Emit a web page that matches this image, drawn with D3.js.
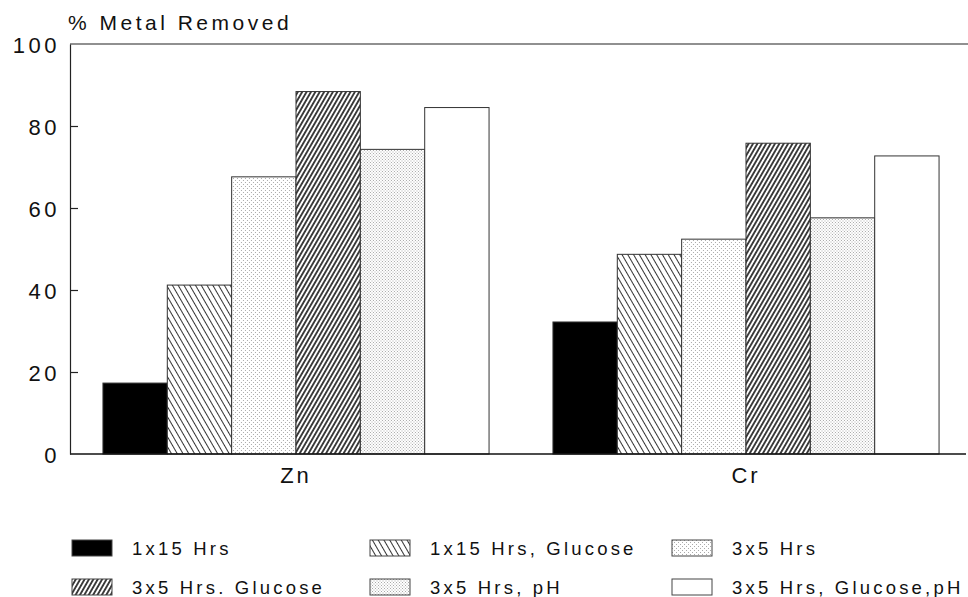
<!DOCTYPE html>
<html>
<head>
<meta charset="utf-8">
<script src="https://cdn.jsdelivr.net/npm/d3@7"></script>
<style>
  html, body { margin: 0; padding: 0; background: #fff; }
  svg { display: block; }
  text { font-family: "Liberation Sans", Arial, Helvetica, sans-serif; fill: #111; }
</style>
</head>
<body>
<svg id="chart" width="968" height="597"></svg>
<script>
// ---- data ----
const categories = ["Zn", "Cr"];
const seriesNames = ["1x15 Hrs", "1x15 Hrs, Glucose", "3x5 Hrs", "3x5 Hrs. Glucose", "3x5 Hrs, pH", "3x5 Hrs, Glucose,pH"];
const znValues = [17.3, 41.2, 67.6, 88.4, 74.3, 84.5];
const crValues = [32.2, 48.7, 52.4, 75.8, 57.6, 72.7];
const yTicks = [0, 20, 40, 60, 80, 100];
const yTitle = "% Metal Removed";
const legendOrder = [0, 1, 2, 3, 4, 5];

const valuesByCat = { "Zn": znValues, "Cr": crValues };

const svg = d3.select("#chart");
const defs = svg.append("defs");

// patterns
function hatch(id, spacing, width, angle, color) {
  const p = defs.append("pattern").attr("id", id)
    .attr("patternUnits", "userSpaceOnUse")
    .attr("width", spacing).attr("height", 10)
    .attr("patternTransform", `rotate(${angle})`);
  p.append("rect").attr("width", spacing).attr("height", 10).attr("fill", "#fff");
  p.append("line").attr("x1", spacing / 2).attr("x2", spacing / 2).attr("y1", 0).attr("y2", 10)
    .attr("stroke", color).attr("stroke-width", width);
}
function stipple(id, size, r, color, pts) {
  const p = defs.append("pattern").attr("id", id)
    .attr("patternUnits", "userSpaceOnUse")
    .attr("width", size).attr("height", size);
  p.append("rect").attr("width", size).attr("height", size).attr("fill", "#fff");
  pts.forEach(d => p.append("rect").attr("x", d[0]).attr("y", d[1]).attr("width", r).attr("height", r).attr("fill", color));
}
hatch("backHatch", 5, 1, -30, "#333");
hatch("denseHatch", 3.8, 1.7, 30, "#222");
stipple("stipLight", 4, 1, "#aaa", [[0, 0], [2, 2]]);
stipple("stipMed", 3, 1, "#aaa", [[0, 0], [1.5, 1.5]]);

const fills = ["#000", "url(#backHatch)", "url(#stipLight)", "url(#denseHatch)", "url(#stipMed)", "#fff"];

// scales
const y = d3.scaleLinear().domain([0, 100]).range([454, 44]);
const x0 = d3.scaleBand().domain(categories).range([71, 971]).paddingInner(0.142).paddingOuter(0.071);
const x1 = d3.scaleBand().domain(seriesNames).range([0, x0.bandwidth()]).padding(0);

// bars
const g = svg.append("g");
categories.forEach(cat => {
  const grp = g.append("g").attr("transform", `translate(${x0(cat)},0)`);
  grp.selectAll("rect")
    .data(valuesByCat[cat].map((v, i) => ({ v, name: seriesNames[i], i })))
    .join("rect")
    .attr("x", d => x1(d.name))
    .attr("y", d => y(d.v))
    .attr("width", x1.bandwidth())
    .attr("height", d => y(0) - y(d.v))
    .attr("fill", d => fills[d.i])
    .attr("stroke", "#333")
    .attr("stroke-width", 1);
});

// axes frame
const axisX = 70;
svg.append("line").attr("x1", axisX).attr("x2", 968).attr("y1", y(100)).attr("y2", y(100))
  .attr("stroke", "#222").attr("stroke-width", 1.2);
svg.append("line").attr("x1", axisX).attr("x2", 966).attr("y1", y(0)).attr("y2", y(0))
  .attr("stroke", "#111").attr("stroke-width", 1.5);

const yAxis = svg.append("g").attr("transform", `translate(${axisX},0)`)
  .call(d3.axisLeft(y).tickValues(yTicks).tickSizeInner(-8).tickSizeOuter(0).tickPadding(10).tickFormat(d3.format("d")));
yAxis.select(".domain").attr("stroke", "#222").attr("stroke-width", 1.2);
yAxis.selectAll(".tick line").attr("stroke", "#222").attr("stroke-width", 1.2)
  .filter(d => d === 0 || d === 100).remove();
yAxis.selectAll(".tick text")
  .attr("font-size", 22).attr("letter-spacing", "3.5px")
  .attr("font-family", "'Liberation Sans', Arial, sans-serif").attr("fill", "#111")
  .attr("dy", "0.4em");

// x category labels
const xAxis = svg.append("g").attr("transform", `translate(0,${y(0)})`)
  .call(d3.axisBottom(x0).tickSize(0).tickPadding(13));
xAxis.select(".domain").remove();
xAxis.selectAll(".tick text")
  .attr("font-size", 22).attr("letter-spacing", "3px")
  .attr("font-family", "'Liberation Sans', Arial, sans-serif").attr("fill", "#111");

// y title
svg.append("text").attr("x", 68).attr("y", 30)
  .attr("font-size", 21).attr("letter-spacing", "3.5px")
  .text(yTitle);

// legend
const legCols = [72, 370, 672];
const legRows = [548, 587];
const leg = svg.append("g");
legendOrder.forEach((si, k) => {
  const col = k % 3, row = Math.floor(k / 3);
  const lx = legCols[col], ly = legRows[row];
  leg.append("rect").attr("x", lx).attr("y", ly - 8).attr("width", 40).attr("height", 16)
    .attr("fill", fills[si]).attr("stroke", "#444").attr("stroke-width", 1);
  leg.append("text").attr("x", lx + 60).attr("y", ly + 7)
    .attr("font-size", 18.5).attr("letter-spacing", "3.2px")
    .text(seriesNames[si]);
});
</script>
</body>
</html>
